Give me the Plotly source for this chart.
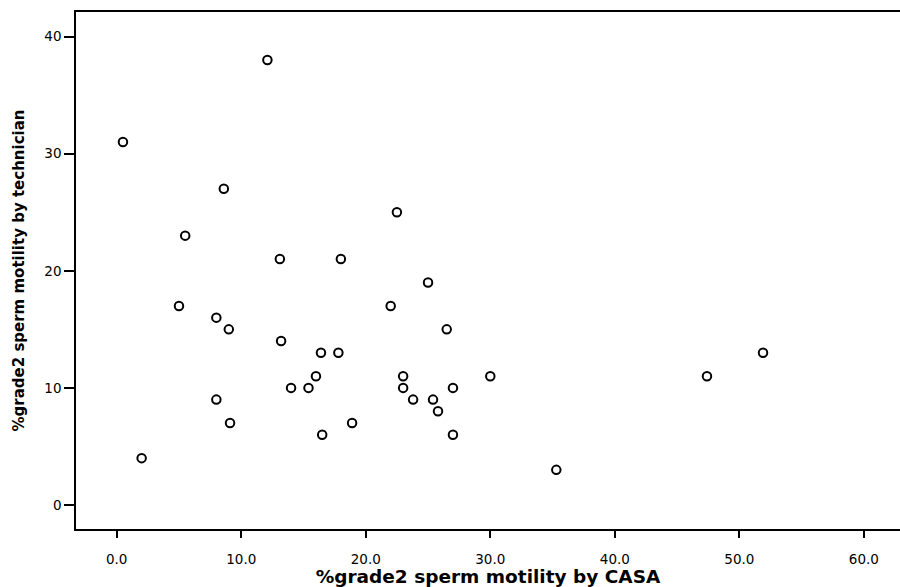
import plotly.graph_objects as go

casa = [0.5, 2.0, 12.1, 8.6, 5.5, 22.5, 13.1, 18.0, 25.0, 5.0, 22.0, 8.0, 9.0, 26.5,
        13.2, 16.4, 17.8, 16.0, 23.0, 30.0, 14.0, 15.4, 23.0, 27.0, 8.0, 23.8, 25.4,
        25.8, 9.1, 18.9, 16.5, 27.0, 35.3, 47.4, 51.9]
technician = [31, 4, 38, 27, 23, 25, 21, 21, 19, 17, 17, 16, 15, 15,
              14, 13, 13, 11, 11, 11, 10, 10, 10, 10, 9, 9, 9,
              8, 7, 7, 6, 6, 3, 11, 13]

x_ticks = [0, 10, 20, 30, 40, 50, 60]
x_tick_labels = ["0.0", "10.0", "20.0", "30.0", "40.0", "50.0", "60.0"]
y_ticks = [0, 10, 20, 30, 40]
y_tick_labels = ["0", "10", "20", "30", "40"]

fig = go.Figure()
fig.add_trace(go.Scatter(
    x=casa, y=technician, mode="markers",
    marker=dict(symbol="circle-open", size=8.5, color="black", line=dict(width=2, color="black")),
    showlegend=False, hoverinfo="skip",
))

tick_font = "DejaVu Sans, Verdana, sans-serif"
title_font = "DejaVu Sans, Arial, sans-serif"
fig.update_layout(
    width=900, height=587,
    margin=dict(l=76, r=0, t=12, b=58),
    paper_bgcolor="white", plot_bgcolor="white",
    font=dict(family=tick_font, color="black", size=11),
    xaxis=dict(
        range=[-3.27, 62.9], tickvals=x_ticks, ticktext=x_tick_labels,
        showgrid=False, zeroline=False, showline=True, linecolor="black", linewidth=1.5,
        mirror=True, ticks="outside", ticklen=7, tickwidth=1.5, tickcolor="black",
        tickfont=dict(family=tick_font, size=13.5), ticklabelstandoff=10, automargin=False,
        title=dict(text="<b>%grade2 sperm motility by CASA</b>",
                   font=dict(family=title_font, size=18.5), standoff=5),
    ),
    yaxis=dict(
        range=[-2.05, 42.1], tickvals=y_ticks, ticktext=y_tick_labels,
        showgrid=False, zeroline=False, showline=True, linecolor="black", linewidth=1.5,
        mirror=False, ticks="outside", ticklen=10, tickwidth=1.5, tickcolor="black",
        tickfont=dict(family=tick_font, size=13.5), automargin=False,
        title=dict(text="<b>%grade2 sperm motility by technician</b>",
                   font=dict(family=title_font, size=15), standoff=16),
    ),
)

fig.write_html(
    "out.html",
    config={"displayModeBar": False},
    post_script="document.body.style.margin='0';document.body.style.overflow='hidden';",
)
